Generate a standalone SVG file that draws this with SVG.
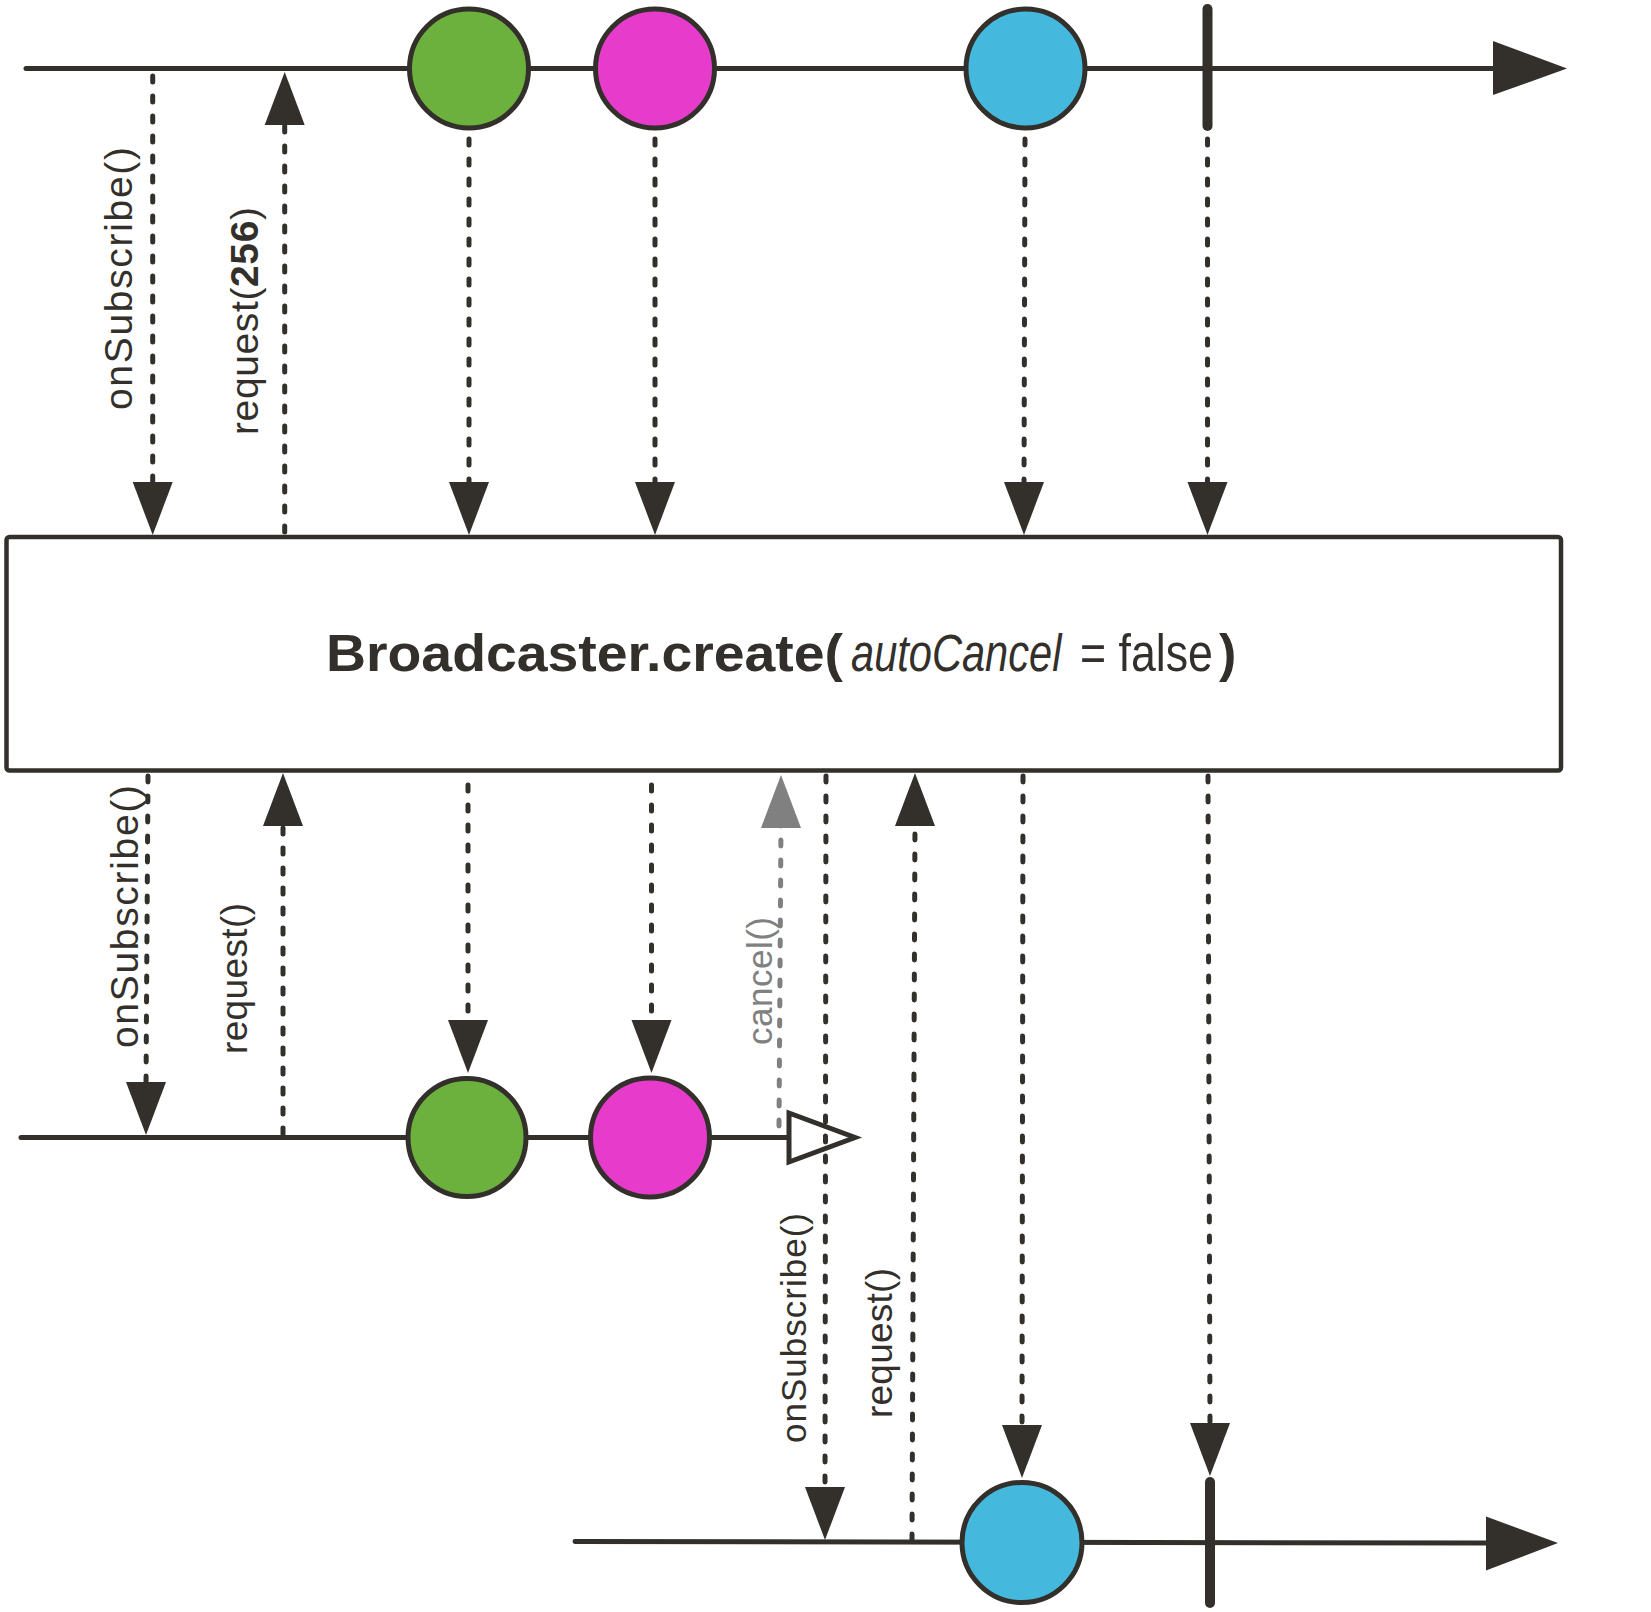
<svg xmlns="http://www.w3.org/2000/svg" xmlns:xlink="http://www.w3.org/1999/xlink" width="1651" height="1612" viewBox="0 0 1651 1612">
<style>
.line{stroke:#33302b;stroke-width:5;fill:none;stroke-linecap:round}
.dash{stroke:#33302b;stroke-width:5;fill:none;stroke-linecap:round;stroke-dasharray:6 14}
.gdash{stroke:#808080;stroke-width:5;fill:none;stroke-linecap:round;stroke-dasharray:6 14}
.head{fill:#33302b}
.ghead{fill:#808080}
.bar{stroke:#33302b;stroke-width:10;stroke-linecap:round}
.marble{stroke:#33302b;stroke-width:5}
.green{fill:#6cb13e}
.magenta{fill:#e63bcb}
.blue{fill:#45b8dd}
.lbl{font-family:"Liberation Sans",Arial,sans-serif;fill:#33302b}
.glbl{font-family:"Liberation Sans",Arial,sans-serif;fill:#808080}
.title{font-family:"Liberation Sans",Arial,sans-serif;fill:#33302b;font-size:52px}
</style>
<defs>
<polygon id="ahDown" points="-20,-53 20,-53 0,0"/>
<polygon id="ahUp" points="-20,53 20,53 0,0"/>
</defs>
<rect width="1651" height="1612" fill="#ffffff"/>

<g id="timeline-source">
<line class="line" x1="26" y1="68.5" x2="1495" y2="68.5"/>
<polygon class="head" points="1493,41 1567,68.5 1493,95"/>
</g>
<g id="timeline-sub1">
<line class="line" x1="21" y1="1137.5" x2="790" y2="1137.5"/>
<polygon points="789,1113 855,1137.5 789,1162" fill="#ffffff" stroke="#33302b" stroke-width="5" stroke-linejoin="miter"/>
</g>
<g id="timeline-sub2">
<line class="line" x1="575" y1="1541.5" x2="1488" y2="1543"/>
<polygon class="head" points="1486,1516.5 1558,1543 1486,1570.5"/>
</g>

<g id="connectors">
<line class="dash" x1="152.7" y1="76" x2="152.7" y2="488"/>
<use xlink:href="#ahDown" href="#ahDown" class="head" x="152.7" y="535"/>
<line class="dash" x1="284.7" y1="532" x2="284.7" y2="120"/>
<use xlink:href="#ahUp" href="#ahUp" class="head" x="284.7" y="72"/>
<line class="dash" x1="469" y1="139" x2="469" y2="488"/>
<use xlink:href="#ahDown" href="#ahDown" class="head" x="469" y="535"/>
<line class="dash" x1="655" y1="139" x2="655" y2="488"/>
<use xlink:href="#ahDown" href="#ahDown" class="head" x="655" y="535"/>
<line class="dash" x1="1025" y1="139" x2="1024" y2="488"/>
<use xlink:href="#ahDown" href="#ahDown" class="head" x="1024" y="535"/>
<line class="dash" x1="1207.5" y1="139" x2="1207.5" y2="488"/>
<use xlink:href="#ahDown" href="#ahDown" class="head" x="1207.5" y="535"/>
<line class="dash" x1="148" y1="776" x2="146" y2="1088"/>
<use xlink:href="#ahDown" href="#ahDown" class="head" x="146" y="1135"/>
<line class="dash" x1="283" y1="1134" x2="283" y2="822"/>
<use xlink:href="#ahUp" href="#ahUp" class="head" x="283" y="773"/>
<line class="dash" x1="468" y1="785" x2="468" y2="1026"/>
<use xlink:href="#ahDown" href="#ahDown" class="head" x="468" y="1073"/>
<line class="dash" x1="651.5" y1="785" x2="651.5" y2="1026"/>
<use xlink:href="#ahDown" href="#ahDown" class="head" x="651.5" y="1073"/>
<line class="gdash" x1="779" y1="1126" x2="781" y2="822"/>
<use xlink:href="#ahUp" href="#ahUp" class="ghead" x="781" y="775"/>
<line class="dash" x1="826" y1="776" x2="825" y2="1492"/>
<use xlink:href="#ahDown" href="#ahDown" class="head" x="825" y="1540"/>
<line class="dash" x1="912" y1="1540" x2="915" y2="822"/>
<use xlink:href="#ahUp" href="#ahUp" class="head" x="915" y="773"/>
<line class="dash" x1="1023" y1="776" x2="1022" y2="1430"/>
<use xlink:href="#ahDown" href="#ahDown" class="head" x="1022" y="1478"/>
<line class="dash" x1="1208" y1="776" x2="1210" y2="1428"/>
<use xlink:href="#ahDown" href="#ahDown" class="head" x="1210" y="1476"/>
</g>

<g id="labels">
<text class="lbl" font-size="39" textLength="263" transform="translate(131.6,410) rotate(-90)">onSubscribe()</text>
<text class="lbl" font-size="39" textLength="228" transform="translate(258,435) rotate(-90)">request(<tspan font-weight="bold">256</tspan>)</text>
<text class="lbl" font-size="39" textLength="263" transform="translate(137.8,1048) rotate(-90)">onSubscribe()</text>
<text class="lbl" font-size="37" textLength="151" transform="translate(247,1054) rotate(-90)">request()</text>
<text class="glbl" font-size="35" textLength="128" transform="translate(772,1045) rotate(-90)">cancel()</text>
<text class="lbl" font-size="35" textLength="230" transform="translate(806,1443) rotate(-90)">onSubscribe()</text>
<text class="lbl" font-size="37" textLength="150" transform="translate(892,1418) rotate(-90)">request()</text>
</g>

<g id="operator">
<rect x="6.5" y="537" width="1554.5" height="233.5" rx="3" fill="#ffffff" stroke="#33302b" stroke-width="4.5"/>
<text class="title" font-weight="bold" transform="translate(326,670.5) scale(1.065,1)">Broadcaster.create(</text>
<text class="title" font-style="italic" transform="translate(851,670.5) scale(0.8,1)">autoCancel</text>
<text class="title" transform="translate(1080,670.5) scale(0.86,1)">= false</text>
<text class="title" font-weight="bold" transform="translate(1219,670.5)">)</text>
</g>

<g id="top-green"><circle class="marble green" cx="469" cy="68.5" r="59.5"/></g>
<g id="top-magenta"><circle class="marble magenta" cx="655" cy="68.5" r="59.5"/></g>
<g id="top-blue"><circle class="marble blue" cx="1025.5" cy="68.5" r="59.5"/></g>
<g id="top-complete"><line class="bar" x1="1207.5" y1="9" x2="1207.5" y2="126"/></g>

<g id="sub1-green"><circle class="marble green" cx="467" cy="1137.5" r="59"/></g>
<g id="sub1-magenta"><circle class="marble magenta" cx="650" cy="1137.5" r="59.5"/></g>

<g id="sub2-blue"><circle class="marble blue" cx="1022" cy="1542.5" r="60"/></g>
<g id="sub2-complete"><line class="bar" x1="1210" y1="1482" x2="1210" y2="1603"/></g>
</svg>
